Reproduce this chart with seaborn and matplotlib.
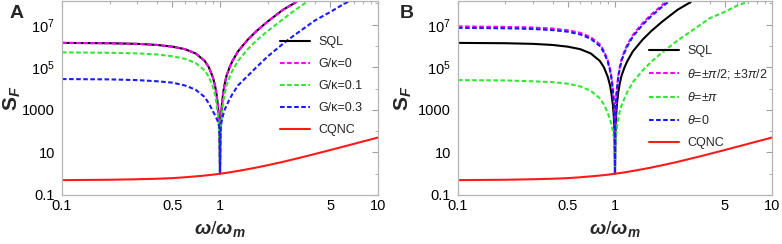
import matplotlib
matplotlib.use("Agg")
import matplotlib.pyplot as plt
import matplotlib.ticker as mticker
import seaborn as sns

# frequency grid omega/omega_m (dense near the resonance)
omega = [0.1, 0.2, 0.3, 0.4, 0.5, 0.6, 0.7, 0.8, 0.85, 0.9, 0.93, 0.95, 0.97, 0.98,
         0.99, 0.995, 1.0, 1.005, 1.01, 1.02, 1.03, 1.05, 1.07, 1.1, 1.15, 1.2, 1.3,
         1.5, 1.7, 2.0, 2.5, 3.0, 3.5, 4.0, 5.0, 6.0, 7.0, 8.0, 10.0]

# standard quantum limit (same in both panels)
sql = [1.4e6, 1.35e6, 1.26e6, 1.12e6, 9.3e5, 7.1e5, 4.5e5, 2.0e5, 1.0e5, 3.5e4, 1.4e4,
       5.6e3, 1.6e3, 630, 160, 40, 1.0, 50, 200, 800, 2.0e3, 7.1e3, 1.6e4, 4.0e4, 1.0e5,
       2.0e5, 5.6e5, 2.0e6, 5.0e6, 1.4e7, 5.0e7, 1.1e8, 2.8e8, 6.3e8, 1.6e9, 3.2e9,
       5.6e9, 8.9e9, 2.2e10]

# coherent quantum noise cancellation
cqnc = [0.5, 0.52, 0.55, 0.58, 0.62, 0.68, 0.75, 0.82, 0.86, 0.9, 0.93, 0.95, 0.97, 0.98,
        0.99, 1.0, 1.0, 1.0, 1.01, 1.02, 1.03, 1.05, 1.07, 1.1, 1.16, 1.22, 1.35, 1.63,
        1.95, 2.5, 3.6, 5.0, 6.6, 8.5, 13, 18.5, 25, 32.5, 50]

# panel A: G/kappa
g_labels = ["G/κ=0", "G/κ=0.1", "G/κ=0.3"]
g_0 = sql
g_01 = [5.0e5, 4.8e5, 4.5e5, 4.0e5, 3.3e5, 2.5e5, 1.6e5, 7.1e4, 3.5e4, 1.26e4, 5.0e3,
        2.0e3, 560, 220, 56, 14, 1.0, 18, 71, 280, 710, 2.5e3, 5.6e3, 1.4e4, 3.5e4,
        7.1e4, 2.0e5, 7.1e5, 1.8e6, 5.0e6, 1.8e7, 5.0e7, 1.1e8, 2.2e8, 5.6e8, 1.1e9,
        2.0e9, 3.2e9, 7.9e9]
g_03 = [2.8e4, 2.7e4, 2.5e4, 2.2e4, 1.9e4, 1.4e4, 8.9e3, 4.0e3, 2.0e3, 890, 560, 400,
        280, 220, 140, 80, 1.0, 80, 140, 250, 350, 630, 1.0e3, 1.6e3, 3.2e3, 5.6e3,
        1.4e4, 4.0e4, 1.0e5, 3.2e5, 1.26e6, 3.5e6, 7.9e6, 1.6e7, 4.0e7, 8.9e7, 1.6e8,
        2.5e8, 6.3e8]

# panel B: phase theta
t_labels = [r"$\theta$=±$\pi$/2; ±3$\pi$/2", r"$\theta$=±$\pi$", r"$\theta$=0"]
t_half = [8.3e6, 7.9e6, 7.4e6, 6.6e6, 5.5e6, 4.2e6, 2.6e6, 1.2e6, 5.9e5, 2.1e5, 8.3e4,
          3.3e4, 9.3e3, 3.7e3, 930, 230, 1.0, 300, 1.2e3, 4.7e3, 1.2e4, 4.2e4, 9.3e4,
          2.3e5, 5.9e5, 1.2e6, 3.3e6, 1.2e7, 3.0e7, 8.3e7, 3.0e8, 6.6e8, 1.5e9, 3.0e9,
          7.0e9, 1.4e10, 2.5e10, 4.0e10, 1.0e11]
t_pi = [2.5e4, 2.4e4, 2.2e4, 2.0e4, 1.7e4, 1.26e4, 7.9e3, 3.5e3, 1.8e3, 710, 350, 200,
        100, 63, 32, 16, 1.0, 16, 32, 79, 160, 400, 790, 1.6e3, 3.5e3, 7.1e3, 2.0e4,
        7.1e4, 1.8e5, 5.0e5, 1.8e6, 4.5e6, 1.0e7, 2.0e7, 4.0e7, 7.9e7, 1.2e8, 2.0e8,
        5.0e8]
t_0 = [7.1e6, 6.8e6, 6.3e6, 5.6e6, 4.7e6, 3.5e6, 2.2e6, 1.0e6, 5.0e5, 1.8e5, 7.1e4,
       2.8e4, 7.9e3, 3.2e3, 790, 200, 1.0, 250, 1.0e3, 4.0e3, 1.0e4, 3.5e4, 7.9e4,
       2.0e5, 5.0e5, 1.0e6, 2.8e6, 1.0e7, 2.5e7, 7.1e7, 2.5e8, 5.6e8, 1.3e9, 2.5e9,
       6.0e9, 1.2e10, 2.2e10, 3.5e10, 8.5e10]

xticks = [0.1, 0.5, 1, 5, 10]
xticklabels = ["0.1", "0.5", "1", "5", "10"]
yticks = [0.1, 10, 1000, 1e5, 1e7]
yticklabels = ["0.1", "10", "1000", r"$10^5$", r"$10^7$"]

MAGENTA = "#ff00ff"
GREEN = "#33e633"
BLUE = "#1a1aff"
RED = "#ff1a1a"
DASH = (0, (2.2, 1.2))
LW = 1.5

sns.set_style("white")
plt.rcParams["font.family"] = ["Liberation Sans", "DejaVu Sans"]
plt.rcParams["mathtext.fontset"] = "custom"
plt.rcParams["mathtext.rm"] = "Liberation Sans"
plt.rcParams["mathtext.it"] = "Liberation Sans:italic"
plt.rcParams["mathtext.bf"] = "Liberation Sans:bold"
plt.rcParams["mathtext.bfit"] = "Liberation Sans:bold:italic"


def style_axes(ax):
    ax.set_xscale("log")
    ax.set_yscale("log")
    ax.set_xlim(0.1, 10)
    ax.set_ylim(0.1, 1.3e8)
    ax.set_xticks(xticks)
    ax.set_xticklabels(xticklabels)
    ax.xaxis.set_minor_locator(mticker.FixedLocator(
        [0.2, 0.3, 0.4, 0.6, 0.7, 0.8, 0.9, 2, 3, 4, 6, 7, 8, 9]))
    ax.xaxis.set_minor_formatter(mticker.NullFormatter())
    ax.set_yticks(yticks)
    ax.set_yticklabels(yticklabels)
    ax.yaxis.set_minor_locator(mticker.FixedLocator([1, 100, 1e4, 1e6, 1e8]))
    ax.yaxis.set_minor_formatter(mticker.NullFormatter())
    ax.tick_params(which="both", direction="in", top=True, right=True,
                   color="#a0a0a0", labelsize=10.5, labelcolor="black")
    ax.tick_params(which="major", length=4, width=0.8)
    ax.tick_params(which="minor", length=2.5, width=0.6)
    ax.tick_params(axis="x", pad=3)
    ax.tick_params(axis="y", pad=5)
    for s in ax.spines.values():
        s.set_color("#b4b4b4")
        s.set_linewidth(0.9)
    ax.set_xlabel(r"$\mathbfit{\omega}/\mathbfit{\omega}_{\mathbfit{m}}$", fontsize=14)
    ax.set_ylabel(r"$\mathbf{S}_{\mathbfit{F}}$", fontsize=15)
    ax.xaxis.set_label_coords(0.5, -0.125)


fig = plt.figure(figsize=(7.82, 2.44), dpi=100)
axA = fig.add_axes([62 / 782, 49 / 244, 316 / 782, 194 / 244])
axB = fig.add_axes([458 / 782, 49 / 244, 314 / 782, 194 / 244])

# panel A
sns.lineplot(x=omega, y=sql, ax=axA, color="black", lw=LW, label="SQL")
sns.lineplot(x=omega, y=g_0, ax=axA, color=MAGENTA, lw=LW, linestyle=DASH, label=g_labels[0])
sns.lineplot(x=omega, y=g_01, ax=axA, color=GREEN, lw=LW, linestyle=DASH, label=g_labels[1])
sns.lineplot(x=omega, y=g_03, ax=axA, color=BLUE, lw=LW, linestyle=DASH, label=g_labels[2])
sns.lineplot(x=omega, y=cqnc, ax=axA, color=RED, lw=LW, label="CQNC")

# panel B
sns.lineplot(x=omega, y=sql, ax=axB, color="black", lw=LW, label="SQL")
sns.lineplot(x=omega, y=t_half, ax=axB, color=MAGENTA, lw=LW, linestyle=DASH, label=t_labels[0])
sns.lineplot(x=omega, y=t_pi, ax=axB, color=GREEN, lw=LW, linestyle=DASH, label=t_labels[1])
sns.lineplot(x=omega, y=t_0, ax=axB, color=BLUE, lw=LW, linestyle=DASH, label=t_labels[2])
sns.lineplot(x=omega, y=cqnc, ax=axB, color=RED, lw=LW, label="CQNC")

for ax in (axA, axB):
    style_axes(ax)
axA.yaxis.set_label_coords(-0.123, 0.5)
axB.yaxis.set_label_coords(-0.14, 0.5)

legend_kw = dict(loc="upper left", frameon=False, borderpad=0, borderaxespad=0,
                 handlelength=2.4, handletextpad=0.65, labelspacing=0.8, fontsize=9)
axA.legend(bbox_to_anchor=(0.69, 0.82), **legend_kw)
axB.legend(bbox_to_anchor=(0.609, 0.773), **legend_kw)

fig.text(10 / 782, 1 - 13 / 244, "A", fontsize=14, fontweight="bold", va="center")
fig.text(400 / 782, 1 - 13 / 244, "B", fontsize=14, fontweight="bold", va="center")

fig.savefig("out.png", dpi=100)
